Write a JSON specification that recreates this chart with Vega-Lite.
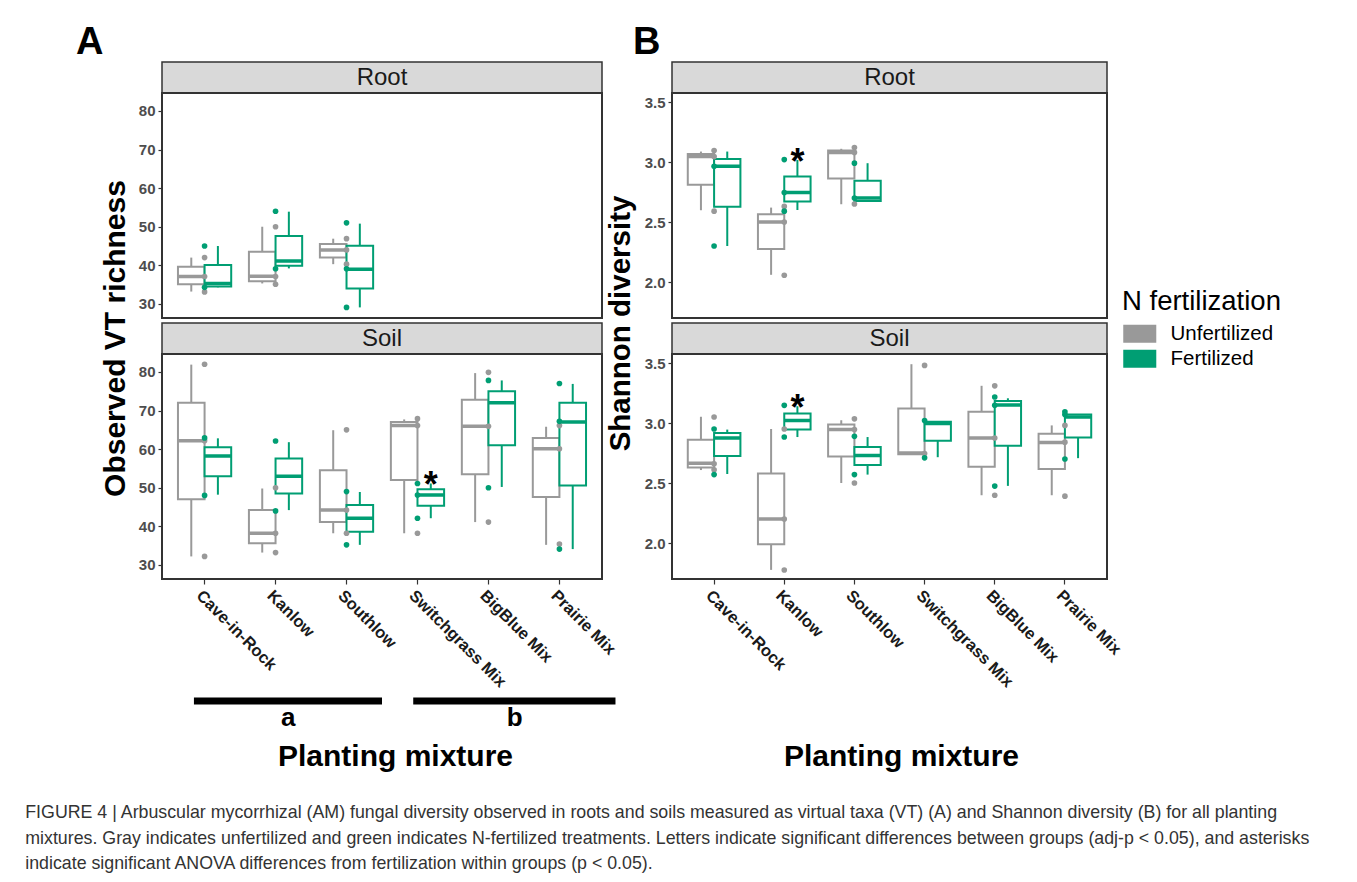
{
"$schema":"https://vega.github.io/schema/vega-lite/v6.json",
"background":"white",
"padding":{"left":25,"top":23,"right":5,"bottom":5},
"bounds":"flush",
"columns":2,
"spacing":{"row":0,"column":70},
"resolve":{"scale":{"xOffset":"independent"}},
"title":{"text":["FIGURE 4 | Arbuscular mycorrhizal (AM) fungal diversity observed in roots and soils measured as virtual taxa (VT) (A) and Shannon diversity (B) for all planting","mixtures. Gray indicates unfertilized and green indicates N-fertilized treatments. Letters indicate significant differences between groups (adj-p < 0.05), and asterisks","indicate significant ANOVA differences from fertilization within groups (p < 0.05)."],"orient":"bottom","anchor":"start","frame":"bounds","font":"Liberation Sans","fontSize":17.8,"fontWeight":"normal","color":"#333333","lineHeight":25.5,"offset":32,"dx":-50},
"config":{
 "font":"Liberation Sans",
 "view":{"stroke":"#333333","strokeWidth":2},
 "axis":{"grid":false,"domain":false,"ticks":true,"tickColor":"#333333","tickWidth":1.2,"tickSize":4,"labelFont":"Liberation Sans","labelFontWeight":"bold","labelFontSize":15,"labelColor":"#4D4D4D","labelPadding":3,"titleFont":"Liberation Sans","titleFontWeight":"bold","titleColor":"#000000"},
 "legend":{"orient":"none","legendX":960,"legendY":226,"padding":0,"titleFontSize":27.5,"titleFontWeight":"normal","titleColor":"#000000","labelFontSize":20.5,"labelColor":"#000000","symbolType":"M-1,-1L2.67,-1L2.67,1L-1,1Z","symbolSize":324,"symbolStrokeWidth":0,"symbolOpacity":1,"labelOffset":28,"rowPadding":4,"titlePadding":8},
 "text":{"font":"Liberation Sans"}
},
"datasets":{
 "vtRootBox":[
  {"mixture":"Cave-in-Rock","treatment":"Unfertilized","lower":33.2,"q1":35.1,"median":37.1,"q3":39.6,"upper":42.0},
  {"mixture":"Cave-in-Rock","treatment":"Fertilized","lower":34.3,"q1":34.5,"median":35.3,"q3":40.1,"upper":45.0},
  {"mixture":"Kanlow","treatment":"Unfertilized","lower":35.3,"q1":35.9,"median":37.2,"q3":43.5,"upper":50.0},
  {"mixture":"Kanlow","treatment":"Fertilized","lower":39.2,"q1":39.9,"median":41.1,"q3":47.6,"upper":53.9},
  {"mixture":"Southlow","treatment":"Unfertilized","lower":40.3,"q1":42.0,"median":44.0,"q3":45.5,"upper":46.9},
  {"mixture":"Southlow","treatment":"Fertilized","lower":29.1,"q1":34.0,"median":39.0,"q3":45.1,"upper":50.8}
 ],
 "vtRootPts":[
  {"mixture":"Cave-in-Rock","treatment":"Unfertilized","value":42.0},
  {"mixture":"Cave-in-Rock","treatment":"Unfertilized","value":37.1},
  {"mixture":"Cave-in-Rock","treatment":"Unfertilized","value":33.1},
  {"mixture":"Cave-in-Rock","treatment":"Fertilized","value":45.0},
  {"mixture":"Cave-in-Rock","treatment":"Fertilized","value":34.3},
  {"mixture":"Kanlow","treatment":"Unfertilized","value":50.0},
  {"mixture":"Kanlow","treatment":"Unfertilized","value":37.1},
  {"mixture":"Kanlow","treatment":"Unfertilized","value":35.1},
  {"mixture":"Kanlow","treatment":"Fertilized","value":54.0},
  {"mixture":"Kanlow","treatment":"Fertilized","value":39.1},
  {"mixture":"Southlow","treatment":"Unfertilized","value":46.9},
  {"mixture":"Southlow","treatment":"Unfertilized","value":44.0},
  {"mixture":"Southlow","treatment":"Unfertilized","value":40.3},
  {"mixture":"Southlow","treatment":"Fertilized","value":51.0},
  {"mixture":"Southlow","treatment":"Fertilized","value":39.1},
  {"mixture":"Southlow","treatment":"Fertilized","value":29.1}
 ],
 "vtSoilBox":[
  {"mixture":"Cave-in-Rock","treatment":"Unfertilized","lower":32.2,"q1":47.0,"median":62.2,"q3":72.0,"upper":81.9},
  {"mixture":"Cave-in-Rock","treatment":"Fertilized","lower":48.2,"q1":53.0,"median":58.2,"q3":60.5,"upper":62.8},
  {"mixture":"Kanlow","treatment":"Unfertilized","lower":33.2,"q1":35.6,"median":38.2,"q3":44.2,"upper":49.8},
  {"mixture":"Kanlow","treatment":"Fertilized","lower":44.2,"q1":48.5,"median":53.0,"q3":57.6,"upper":61.8},
  {"mixture":"Southlow","treatment":"Unfertilized","lower":38.2,"q1":41.1,"median":44.2,"q3":54.5,"upper":64.9},
  {"mixture":"Southlow","treatment":"Fertilized","lower":35.2,"q1":38.6,"median":42.1,"q3":45.5,"upper":48.9},
  {"mixture":"Switchgrass Mix","treatment":"Unfertilized","lower":38.2,"q1":52.0,"median":66.1,"q3":67.0,"upper":67.7},
  {"mixture":"Switchgrass Mix","treatment":"Fertilized","lower":42.1,"q1":45.3,"median":48.1,"q3":49.6,"upper":51.1},
  {"mixture":"BigBlue Mix","treatment":"Unfertilized","lower":41.1,"q1":53.5,"median":65.9,"q3":72.8,"upper":79.7},
  {"mixture":"BigBlue Mix","treatment":"Fertilized","lower":50.2,"q1":61.0,"median":72.0,"q3":75.0,"upper":77.8},
  {"mixture":"Prairie Mix","treatment":"Unfertilized","lower":35.2,"q1":47.6,"median":60.1,"q3":62.9,"upper":65.8},
  {"mixture":"Prairie Mix","treatment":"Fertilized","lower":34.1,"q1":50.6,"median":67.0,"q3":72.0,"upper":76.9}
 ],
 "vtSoilPts":[
  {"mixture":"Cave-in-Rock","treatment":"Unfertilized","value":82.0},
  {"mixture":"Cave-in-Rock","treatment":"Unfertilized","value":62.2},
  {"mixture":"Cave-in-Rock","treatment":"Unfertilized","value":32.2},
  {"mixture":"Cave-in-Rock","treatment":"Fertilized","value":62.9},
  {"mixture":"Cave-in-Rock","treatment":"Fertilized","value":48.0},
  {"mixture":"Kanlow","treatment":"Unfertilized","value":50.0},
  {"mixture":"Kanlow","treatment":"Unfertilized","value":38.2},
  {"mixture":"Kanlow","treatment":"Unfertilized","value":33.2},
  {"mixture":"Kanlow","treatment":"Fertilized","value":62.1},
  {"mixture":"Kanlow","treatment":"Fertilized","value":44.0},
  {"mixture":"Southlow","treatment":"Unfertilized","value":65.0},
  {"mixture":"Southlow","treatment":"Unfertilized","value":44.2},
  {"mixture":"Southlow","treatment":"Unfertilized","value":38.2},
  {"mixture":"Southlow","treatment":"Fertilized","value":49.0},
  {"mixture":"Southlow","treatment":"Fertilized","value":35.2},
  {"mixture":"Switchgrass Mix","treatment":"Unfertilized","value":67.9},
  {"mixture":"Switchgrass Mix","treatment":"Unfertilized","value":66.1},
  {"mixture":"Switchgrass Mix","treatment":"Unfertilized","value":38.2},
  {"mixture":"Switchgrass Mix","treatment":"Fertilized","value":51.1},
  {"mixture":"Switchgrass Mix","treatment":"Fertilized","value":48.1},
  {"mixture":"Switchgrass Mix","treatment":"Fertilized","value":42.1},
  {"mixture":"BigBlue Mix","treatment":"Unfertilized","value":79.9},
  {"mixture":"BigBlue Mix","treatment":"Unfertilized","value":65.9},
  {"mixture":"BigBlue Mix","treatment":"Unfertilized","value":41.1},
  {"mixture":"BigBlue Mix","treatment":"Fertilized","value":77.8},
  {"mixture":"BigBlue Mix","treatment":"Fertilized","value":50.0},
  {"mixture":"Prairie Mix","treatment":"Unfertilized","value":66.1},
  {"mixture":"Prairie Mix","treatment":"Unfertilized","value":60.1},
  {"mixture":"Prairie Mix","treatment":"Unfertilized","value":35.4},
  {"mixture":"Prairie Mix","treatment":"Fertilized","value":77.0},
  {"mixture":"Prairie Mix","treatment":"Fertilized","value":67.2},
  {"mixture":"Prairie Mix","treatment":"Fertilized","value":34.1}
 ],
 "shRootBox":[
  {"mixture":"Cave-in-Rock","treatment":"Unfertilized","lower":2.598,"q1":2.81,"median":3.045,"q3":3.067,"upper":3.087},
  {"mixture":"Cave-in-Rock","treatment":"Fertilized","lower":2.30,"q1":2.628,"median":2.964,"q3":3.025,"upper":3.087},
  {"mixture":"Kanlow","treatment":"Unfertilized","lower":2.06,"q1":2.276,"median":2.50,"q3":2.565,"upper":2.62},
  {"mixture":"Kanlow","treatment":"Fertilized","lower":2.60,"q1":2.67,"median":2.746,"q3":2.88,"upper":3.017},
  {"mixture":"Southlow","treatment":"Unfertilized","lower":2.648,"q1":2.863,"median":3.08,"q3":3.095,"upper":3.11},
  {"mixture":"Southlow","treatment":"Fertilized","lower":2.668,"q1":2.676,"median":2.70,"q3":2.844,"upper":2.99}
 ],
 "shRootPts":[
  {"mixture":"Cave-in-Rock","treatment":"Unfertilized","value":3.095},
  {"mixture":"Cave-in-Rock","treatment":"Unfertilized","value":3.045},
  {"mixture":"Cave-in-Rock","treatment":"Unfertilized","value":2.59},
  {"mixture":"Cave-in-Rock","treatment":"Fertilized","value":2.30},
  {"mixture":"Cave-in-Rock","treatment":"Fertilized","value":2.964},
  {"mixture":"Kanlow","treatment":"Unfertilized","value":2.63},
  {"mixture":"Kanlow","treatment":"Unfertilized","value":2.50},
  {"mixture":"Kanlow","treatment":"Unfertilized","value":2.056},
  {"mixture":"Kanlow","treatment":"Fertilized","value":3.02},
  {"mixture":"Kanlow","treatment":"Fertilized","value":2.746},
  {"mixture":"Kanlow","treatment":"Fertilized","value":2.59},
  {"mixture":"Southlow","treatment":"Unfertilized","value":3.12},
  {"mixture":"Southlow","treatment":"Unfertilized","value":3.08},
  {"mixture":"Southlow","treatment":"Unfertilized","value":2.65},
  {"mixture":"Southlow","treatment":"Fertilized","value":2.99},
  {"mixture":"Southlow","treatment":"Fertilized","value":2.70}
 ],
 "shSoilBox":[
  {"mixture":"Cave-in-Rock","treatment":"Unfertilized","lower":2.608,"q1":2.63,"median":2.665,"q3":2.861,"upper":3.052},
  {"mixture":"Cave-in-Rock","treatment":"Fertilized","lower":2.575,"q1":2.726,"median":2.875,"q3":2.917,"upper":2.945},
  {"mixture":"Kanlow","treatment":"Unfertilized","lower":1.776,"q1":1.99,"median":2.20,"q3":2.58,"upper":2.95},
  {"mixture":"Kanlow","treatment":"Fertilized","lower":2.883,"q1":2.945,"median":3.02,"q3":3.08,"upper":3.14},
  {"mixture":"Southlow","treatment":"Unfertilized","lower":2.50,"q1":2.72,"median":2.945,"q3":2.987,"upper":3.023},
  {"mixture":"Southlow","treatment":"Fertilized","lower":2.57,"q1":2.65,"median":2.73,"q3":2.80,"upper":2.883},
  {"mixture":"Switchgrass Mix","treatment":"Unfertilized","lower":2.74,"q1":2.74,"median":2.749,"q3":3.12,"upper":3.49},
  {"mixture":"Switchgrass Mix","treatment":"Fertilized","lower":2.715,"q1":2.852,"median":2.995,"q3":3.01,"upper":3.015},
  {"mixture":"BigBlue Mix","treatment":"Unfertilized","lower":2.398,"q1":2.636,"median":2.875,"q3":3.094,"upper":3.31},
  {"mixture":"BigBlue Mix","treatment":"Fertilized","lower":2.476,"q1":2.81,"median":3.15,"q3":3.183,"upper":3.206},
  {"mixture":"Prairie Mix","treatment":"Unfertilized","lower":2.398,"q1":2.617,"median":2.838,"q3":2.911,"upper":2.98},
  {"mixture":"Prairie Mix","treatment":"Fertilized","lower":2.707,"q1":2.88,"median":3.05,"q3":3.07,"upper":3.07}
 ],
 "shSoilPts":[
  {"mixture":"Cave-in-Rock","treatment":"Unfertilized","value":3.05},
  {"mixture":"Cave-in-Rock","treatment":"Unfertilized","value":2.66},
  {"mixture":"Cave-in-Rock","treatment":"Unfertilized","value":2.61},
  {"mixture":"Cave-in-Rock","treatment":"Fertilized","value":2.95},
  {"mixture":"Cave-in-Rock","treatment":"Fertilized","value":2.57},
  {"mixture":"Kanlow","treatment":"Unfertilized","value":2.95},
  {"mixture":"Kanlow","treatment":"Unfertilized","value":2.20},
  {"mixture":"Kanlow","treatment":"Unfertilized","value":1.775},
  {"mixture":"Kanlow","treatment":"Fertilized","value":3.147},
  {"mixture":"Kanlow","treatment":"Fertilized","value":2.883},
  {"mixture":"Southlow","treatment":"Unfertilized","value":3.035},
  {"mixture":"Southlow","treatment":"Unfertilized","value":2.945},
  {"mixture":"Southlow","treatment":"Unfertilized","value":2.50},
  {"mixture":"Southlow","treatment":"Fertilized","value":2.889},
  {"mixture":"Southlow","treatment":"Fertilized","value":2.57},
  {"mixture":"Switchgrass Mix","treatment":"Unfertilized","value":3.48},
  {"mixture":"Switchgrass Mix","treatment":"Unfertilized","value":2.745},
  {"mixture":"Switchgrass Mix","treatment":"Fertilized","value":3.02},
  {"mixture":"Switchgrass Mix","treatment":"Fertilized","value":2.71},
  {"mixture":"BigBlue Mix","treatment":"Unfertilized","value":3.31},
  {"mixture":"BigBlue Mix","treatment":"Unfertilized","value":2.875},
  {"mixture":"BigBlue Mix","treatment":"Unfertilized","value":2.398},
  {"mixture":"BigBlue Mix","treatment":"Fertilized","value":3.217},
  {"mixture":"BigBlue Mix","treatment":"Fertilized","value":3.147},
  {"mixture":"BigBlue Mix","treatment":"Fertilized","value":2.474},
  {"mixture":"Prairie Mix","treatment":"Unfertilized","value":2.98},
  {"mixture":"Prairie Mix","treatment":"Unfertilized","value":2.84},
  {"mixture":"Prairie Mix","treatment":"Unfertilized","value":2.39},
  {"mixture":"Prairie Mix","treatment":"Fertilized","value":3.094},
  {"mixture":"Prairie Mix","treatment":"Fertilized","value":3.07},
  {"mixture":"Prairie Mix","treatment":"Fertilized","value":2.70}
 ],
 "vtSoilStar":[{"mixture":"Switchgrass Mix","treatment":"Fertilized","value":53.2,"label":"*"}],
 "shRootStar":[{"mixture":"Kanlow","treatment":"Fertilized","value":3.08,"label":"*"}],
 "shSoilStar":[{"mixture":"Kanlow","treatment":"Fertilized","value":3.21,"label":"*"}],
 "groups":[{"letter":"a","start":0.85,"end":3.5,"mid":2.18},{"letter":"b","start":3.94,"end":6.79,"mid":5.37}]
},
"concat":[
 {"width":440,"height":31,"view":{"fill":"#D9D9D9","stroke":"#333333","strokeWidth":1.5},
  "title":{"text":"A","anchor":"start","frame":"group","fontSize":38,"fontWeight":"bold","color":"#000000","dx":-86,"offset":0},
  "data":{"values":[{"label":"Root"}]},"mark":{"type":"text","fontSize":24,"color":"#1A1A1A"},"encoding":{"text":{"field":"label","type":"nominal"}}},
 {"width":435,"height":31,"view":{"fill":"#D9D9D9","stroke":"#333333","strokeWidth":1.5},
  "title":{"text":"B","anchor":"start","frame":"group","fontSize":38,"fontWeight":"bold","color":"#000000","dx":-39,"offset":0},
  "data":{"values":[{"label":"Root"}]},"mark":{"type":"text","fontSize":24,"color":"#1A1A1A"},"encoding":{"text":{"field":"label","type":"nominal"}}},
 {"width":440,"height":225,
  "encoding":{"x":{"field":"mixture","type":"nominal","scale":{"domain":["Cave-in-Rock","Kanlow","Southlow","Switchgrass Mix","BigBlue Mix","Prairie Mix"],"paddingInner":0,"paddingOuter":0.1},"axis":null}},
  "layer":[
   {"data":{"name":"vtRootBox"},"mark":{"type":"rule","strokeWidth":2},"encoding":{"xOffset":{"field":"treatment","type":"nominal","scale":{"domain":["Unfertilized","Fertilized"],"paddingInner":0,"paddingOuter":0.333}},"y":{"field":"lower","type":"quantitative","title":"Observed VT richness","scale":{"domain":[26.35,84.65],"nice":false,"zero":false},"axis":{"values":[30,40,50,60,70,80],"titleX":-38,"titleY":245,"titleAngle":-90,"titleAlign":"center","titleBaseline":"alphabetic","titleFontSize":30}},"y2":{"field":"upper"},"stroke":{"field":"treatment","type":"nominal","title":"N fertilization","scale":{"domain":["Unfertilized","Fertilized"],"range":["#999999","#009E73"]}}}},
   {"data":{"name":"vtRootBox"},"mark":{"type":"rect","fill":"white","strokeWidth":2},"encoding":{"xOffset":{"field":"treatment","type":"nominal","scale":{"domain":["Unfertilized","Fertilized"],"paddingInner":0,"paddingOuter":0.333}},"y":{"field":"q1","type":"quantitative","title":"Observed VT richness","scale":{"domain":[26.35,84.65],"nice":false,"zero":false}},"y2":{"field":"q3"},"stroke":{"field":"treatment","type":"nominal","title":"N fertilization","scale":{"domain":["Unfertilized","Fertilized"],"range":["#999999","#009E73"]}}}},
   {"data":{"name":"vtRootBox"},"mark":{"type":"rect","fill":"transparent","strokeWidth":3.5},"encoding":{"xOffset":{"field":"treatment","type":"nominal","scale":{"domain":["Unfertilized","Fertilized"],"paddingInner":0,"paddingOuter":0.333}},"y":{"field":"median","type":"quantitative","title":"Observed VT richness","scale":{"domain":[26.35,84.65],"nice":false,"zero":false}},"y2":{"field":"median"},"stroke":{"field":"treatment","type":"nominal","title":"N fertilization","scale":{"domain":["Unfertilized","Fertilized"],"range":["#999999","#009E73"]}}}},
   {"data":{"name":"vtRootPts"},"mark":{"type":"point","filled":true,"size":32,"opacity":1},"encoding":{"y":{"field":"value","type":"quantitative","title":"Observed VT richness","scale":{"domain":[26.35,84.65],"nice":false,"zero":false}},"color":{"field":"treatment","type":"nominal","title":"N fertilization","scale":{"domain":["Unfertilized","Fertilized"],"range":["#999999","#009E73"]}}}}
  ]},
 {"width":435,"height":225,
  "encoding":{"x":{"field":"mixture","type":"nominal","scale":{"domain":["Cave-in-Rock","Kanlow","Southlow","Switchgrass Mix","BigBlue Mix","Prairie Mix"],"paddingInner":0,"paddingOuter":0.1},"axis":null}},
  "layer":[
   {"data":{"name":"shRootBox"},"mark":{"type":"rule","strokeWidth":2},"encoding":{"xOffset":{"field":"treatment","type":"nominal","scale":{"domain":["Unfertilized","Fertilized"],"paddingInner":0,"paddingOuter":0.333}},"y":{"field":"lower","type":"quantitative","title":"Shannon diversity","scale":{"domain":[1.70,3.575],"nice":false,"zero":false},"axis":{"values":[2,2.5,3,3.5],"format":".1f","titleX":-43,"titleY":230,"titleAngle":-90,"titleAlign":"center","titleBaseline":"alphabetic","titleFontSize":29.5}},"y2":{"field":"upper"},"stroke":{"field":"treatment","type":"nominal","title":"N fertilization","scale":{"domain":["Unfertilized","Fertilized"],"range":["#999999","#009E73"]}}}},
   {"data":{"name":"shRootBox"},"mark":{"type":"rect","fill":"white","strokeWidth":2},"encoding":{"xOffset":{"field":"treatment","type":"nominal","scale":{"domain":["Unfertilized","Fertilized"],"paddingInner":0,"paddingOuter":0.333}},"y":{"field":"q1","type":"quantitative","title":"Shannon diversity","scale":{"domain":[1.70,3.575],"nice":false,"zero":false}},"y2":{"field":"q3"},"stroke":{"field":"treatment","type":"nominal","title":"N fertilization","scale":{"domain":["Unfertilized","Fertilized"],"range":["#999999","#009E73"]}}}},
   {"data":{"name":"shRootBox"},"mark":{"type":"rect","fill":"transparent","strokeWidth":3.5},"encoding":{"xOffset":{"field":"treatment","type":"nominal","scale":{"domain":["Unfertilized","Fertilized"],"paddingInner":0,"paddingOuter":0.333}},"y":{"field":"median","type":"quantitative","title":"Shannon diversity","scale":{"domain":[1.70,3.575],"nice":false,"zero":false}},"y2":{"field":"median"},"stroke":{"field":"treatment","type":"nominal","title":"N fertilization","scale":{"domain":["Unfertilized","Fertilized"],"range":["#999999","#009E73"]}}}},
   {"data":{"name":"shRootPts"},"mark":{"type":"point","filled":true,"size":32,"opacity":1},"encoding":{"y":{"field":"value","type":"quantitative","title":"Shannon diversity","scale":{"domain":[1.70,3.575],"nice":false,"zero":false}},"color":{"field":"treatment","type":"nominal","title":"N fertilization","scale":{"domain":["Unfertilized","Fertilized"],"range":["#999999","#009E73"]}}}},
   {"data":{"name":"shRootStar"},"mark":{"type":"text","fontSize":36,"fontWeight":"bold","color":"#000000","dy":11},"encoding":{"xOffset":{"field":"treatment","type":"nominal","scale":{"domain":["Unfertilized","Fertilized"],"paddingInner":0,"paddingOuter":0.333}},"y":{"field":"value","type":"quantitative","title":"Shannon diversity","scale":{"domain":[1.70,3.575],"nice":false,"zero":false}},"text":{"field":"label","type":"nominal"}}}
  ]},
 {"width":440,"height":5,"view":{"stroke":null},"data":{"values":[{}]},"mark":{"type":"point","opacity":0},"encoding":{}},
 {"width":435,"height":5,"view":{"stroke":null},"data":{"values":[{}]},"mark":{"type":"point","opacity":0},"encoding":{}},
 {"width":440,"height":31,"view":{"fill":"#D9D9D9","stroke":"#333333","strokeWidth":1.5},
  "data":{"values":[{"label":"Soil"}]},"mark":{"type":"text","fontSize":24,"color":"#1A1A1A"},"encoding":{"text":{"field":"label","type":"nominal"}}},
 {"width":435,"height":31,"view":{"fill":"#D9D9D9","stroke":"#333333","strokeWidth":1.5},
  "data":{"values":[{"label":"Soil"}]},"mark":{"type":"text","fontSize":24,"color":"#1A1A1A"},"encoding":{"text":{"field":"label","type":"nominal"}}},
 {"width":440,"height":225,
  "encoding":{"x":{"field":"mixture","type":"nominal","title":"Planting mixture","scale":{"domain":["Cave-in-Rock","Kanlow","Southlow","Switchgrass Mix","BigBlue Mix","Prairie Mix"],"paddingInner":0,"paddingOuter":0.1},"axis":{"labelAngle":45,"labelAlign":"left","labelBaseline":"top","labelFontSize":16.5,"labelColor":"#1A1A1A","labelPadding":3,"labelOverlap":false,"labelLimit":300,"tickSize":5,"titleX":233,"titleY":186,"titleAlign":"center","titleBaseline":"alphabetic","titleFontSize":30}}},
  "layer":[
   {"data":{"name":"vtSoilBox"},"mark":{"type":"rule","strokeWidth":2},"encoding":{"xOffset":{"field":"treatment","type":"nominal","scale":{"domain":["Unfertilized","Fertilized"],"paddingInner":0,"paddingOuter":0.333}},"y":{"field":"lower","type":"quantitative","title":null,"scale":{"domain":[26.35,84.65],"nice":false,"zero":false},"axis":{"values":[30,40,50,60,70,80]}},"y2":{"field":"upper"},"stroke":{"field":"treatment","type":"nominal","title":"N fertilization","scale":{"domain":["Unfertilized","Fertilized"],"range":["#999999","#009E73"]}}}},
   {"data":{"name":"vtSoilBox"},"mark":{"type":"rect","fill":"white","strokeWidth":2},"encoding":{"xOffset":{"field":"treatment","type":"nominal","scale":{"domain":["Unfertilized","Fertilized"],"paddingInner":0,"paddingOuter":0.333}},"y":{"field":"q1","type":"quantitative","title":null,"scale":{"domain":[26.35,84.65],"nice":false,"zero":false}},"y2":{"field":"q3"},"stroke":{"field":"treatment","type":"nominal","title":"N fertilization","scale":{"domain":["Unfertilized","Fertilized"],"range":["#999999","#009E73"]}}}},
   {"data":{"name":"vtSoilBox"},"mark":{"type":"rect","fill":"transparent","strokeWidth":3.5},"encoding":{"xOffset":{"field":"treatment","type":"nominal","scale":{"domain":["Unfertilized","Fertilized"],"paddingInner":0,"paddingOuter":0.333}},"y":{"field":"median","type":"quantitative","title":null,"scale":{"domain":[26.35,84.65],"nice":false,"zero":false}},"y2":{"field":"median"},"stroke":{"field":"treatment","type":"nominal","title":"N fertilization","scale":{"domain":["Unfertilized","Fertilized"],"range":["#999999","#009E73"]}}}},
   {"data":{"name":"vtSoilPts"},"mark":{"type":"point","filled":true,"size":32,"opacity":1},"encoding":{"y":{"field":"value","type":"quantitative","title":null,"scale":{"domain":[26.35,84.65],"nice":false,"zero":false}},"color":{"field":"treatment","type":"nominal","title":"N fertilization","scale":{"domain":["Unfertilized","Fertilized"],"range":["#999999","#009E73"]}}}},
   {"data":{"name":"vtSoilStar"},"mark":{"type":"text","fontSize":36,"fontWeight":"bold","color":"#000000","dy":11},"encoding":{"xOffset":{"field":"treatment","type":"nominal","scale":{"domain":["Unfertilized","Fertilized"],"paddingInner":0,"paddingOuter":0.333}},"y":{"field":"value","type":"quantitative","title":null,"scale":{"domain":[26.35,84.65],"nice":false,"zero":false}},"text":{"field":"label","type":"nominal"}}}
  ]},
 {"width":435,"height":225,
  "encoding":{"x":{"field":"mixture","type":"nominal","title":"Planting mixture","scale":{"domain":["Cave-in-Rock","Kanlow","Southlow","Switchgrass Mix","BigBlue Mix","Prairie Mix"],"paddingInner":0,"paddingOuter":0.1},"axis":{"labelAngle":45,"labelAlign":"left","labelBaseline":"top","labelFontSize":16.5,"labelColor":"#1A1A1A","labelPadding":3,"labelOverlap":false,"labelLimit":300,"tickSize":5,"titleX":229,"titleY":186,"titleAlign":"center","titleBaseline":"alphabetic","titleFontSize":30}}},
  "layer":[
   {"data":{"name":"shSoilBox"},"mark":{"type":"rule","strokeWidth":2},"encoding":{"xOffset":{"field":"treatment","type":"nominal","scale":{"domain":["Unfertilized","Fertilized"],"paddingInner":0,"paddingOuter":0.333}},"y":{"field":"lower","type":"quantitative","title":null,"scale":{"domain":[1.70,3.575],"nice":false,"zero":false},"axis":{"values":[2,2.5,3,3.5],"format":".1f"}},"y2":{"field":"upper"},"stroke":{"field":"treatment","type":"nominal","title":"N fertilization","scale":{"domain":["Unfertilized","Fertilized"],"range":["#999999","#009E73"]}}}},
   {"data":{"name":"shSoilBox"},"mark":{"type":"rect","fill":"white","strokeWidth":2},"encoding":{"xOffset":{"field":"treatment","type":"nominal","scale":{"domain":["Unfertilized","Fertilized"],"paddingInner":0,"paddingOuter":0.333}},"y":{"field":"q1","type":"quantitative","title":null,"scale":{"domain":[1.70,3.575],"nice":false,"zero":false}},"y2":{"field":"q3"},"stroke":{"field":"treatment","type":"nominal","title":"N fertilization","scale":{"domain":["Unfertilized","Fertilized"],"range":["#999999","#009E73"]}}}},
   {"data":{"name":"shSoilBox"},"mark":{"type":"rect","fill":"transparent","strokeWidth":3.5},"encoding":{"xOffset":{"field":"treatment","type":"nominal","scale":{"domain":["Unfertilized","Fertilized"],"paddingInner":0,"paddingOuter":0.333}},"y":{"field":"median","type":"quantitative","title":null,"scale":{"domain":[1.70,3.575],"nice":false,"zero":false}},"y2":{"field":"median"},"stroke":{"field":"treatment","type":"nominal","title":"N fertilization","scale":{"domain":["Unfertilized","Fertilized"],"range":["#999999","#009E73"]}}}},
   {"data":{"name":"shSoilPts"},"mark":{"type":"point","filled":true,"size":32,"opacity":1},"encoding":{"y":{"field":"value","type":"quantitative","title":null,"scale":{"domain":[1.70,3.575],"nice":false,"zero":false}},"color":{"field":"treatment","type":"nominal","title":"N fertilization","scale":{"domain":["Unfertilized","Fertilized"],"range":["#999999","#009E73"]}}}},
   {"data":{"name":"shSoilStar"},"mark":{"type":"text","fontSize":36,"fontWeight":"bold","color":"#000000","dy":11},"encoding":{"xOffset":{"field":"treatment","type":"nominal","scale":{"domain":["Unfertilized","Fertilized"],"paddingInner":0,"paddingOuter":0.333}},"y":{"field":"value","type":"quantitative","title":null,"scale":{"domain":[1.70,3.575],"nice":false,"zero":false}},"text":{"field":"label","type":"nominal"}}}
  ]},
 {"width":440,"height":109,"view":{"stroke":null},"data":{"values":[{}]},"mark":{"type":"point","opacity":0},"encoding":{}},
 {"width":435,"height":109,"view":{"stroke":null},"data":{"values":[{}]},"mark":{"type":"point","opacity":0},"encoding":{}},
 {"width":440,"height":26,"view":{"stroke":null},"data":{"name":"groups"},
  "layer":[
   {"mark":{"type":"rule","strokeWidth":7,"color":"#000000"},"encoding":{"x":{"field":"start","type":"quantitative","scale":{"domain":[0.4,6.6],"nice":false,"zero":false},"axis":null},"x2":{"field":"end"}}},
   {"mark":{"type":"text","fontSize":26,"fontWeight":"bold","color":"#000000","dy":17},"encoding":{"x":{"field":"mid","type":"quantitative","scale":{"domain":[0.4,6.6],"nice":false,"zero":false},"axis":null},"text":{"field":"letter","type":"nominal"}}}
  ]}
]
}
